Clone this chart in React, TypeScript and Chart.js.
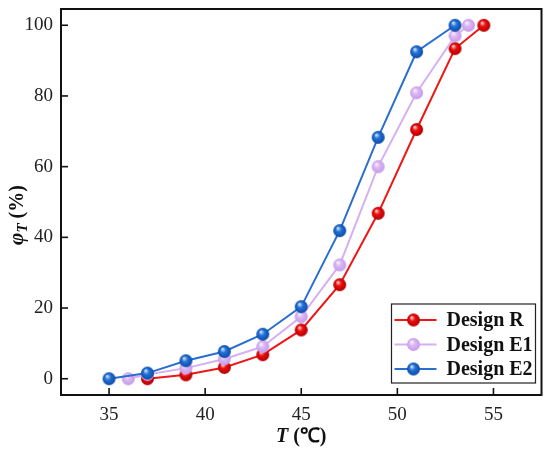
import React, { useEffect, useRef } from "react";
import { Chart, registerables } from "chart.js";

Chart.register(...registerables);

// ---- data ----
const SERIES_NAMES = ["Design R", "Design E1", "Design E2"];
const T_R = [37, 39, 41, 43, 45, 47, 49, 51, 53, 54.5];
const PHI_R = [0, 1.1, 3.2, 6.8, 13.8, 26.6, 46.8, 70.5, 93.4, 100];
const T_E1 = [36, 37, 39, 41, 43, 45, 47, 49, 51, 53, 53.7];
const PHI_E1 = [0, 1.2, 3, 5.6, 9.1, 17.6, 32.2, 60, 80.9, 97, 100];
const T_E2 = [35, 37, 39, 41, 43, 45, 47, 49, 51, 53];
const PHI_E2 = [0, 1.6, 5.1, 7.7, 12.6, 20.4, 41.9, 68.3, 92.5, 100];
const X_TICKS = [35, 40, 45, 50, 55];
const Y_TICKS = [0, 20, 40, 60, 80, 100];

const SERIF = "'Liberation Serif', 'Times New Roman', serif";

function makeSphere(base: string, light: string, dark: string, r = 6.5) {
  const c = document.createElement("canvas");
  const s = Math.ceil(r * 2) + 2;
  c.width = s;
  c.height = s;
  const g = c.getContext("2d")!;
  const cx = s / 2,
    cy = s / 2;
  const grad = g.createRadialGradient(cx - r * 0.3, cy - r * 0.4, r * 0.05, cx, cy, r);
  grad.addColorStop(0, light);
  grad.addColorStop(0.4, base);
  grad.addColorStop(1, dark);
  g.fillStyle = grad;
  g.beginPath();
  g.arc(cx, cy, r, 0, Math.PI * 2);
  g.fill();
  return c;
}

const framePlugin = {
  id: "frameAndLegend",
  afterDraw(chart: any) {
    const { ctx, chartArea: a, scales } = chart;
    ctx.save();
    // frame
    ctx.strokeStyle = "#111";
    ctx.lineWidth = 2;
    ctx.strokeRect(a.left, a.top, a.right - a.left, a.bottom - a.top);
    // inward ticks
    ctx.lineWidth = 1.6;
    const tl = 7;
    scales.x.ticks.forEach((t: any) => {
      const px = scales.x.getPixelForValue(t.value);
      ctx.beginPath();
      ctx.moveTo(px, a.bottom);
      ctx.lineTo(px, a.bottom - tl);
      ctx.stroke();
    });
    scales.y.ticks.forEach((t: any) => {
      const py = scales.y.getPixelForValue(t.value);
      ctx.beginPath();
      ctx.moveTo(a.left, py);
      ctx.lineTo(a.left + tl, py);
      ctx.stroke();
    });

    // legend
    const bw = 144,
      bh = 79;
    const bx = a.right - 6 - bw;
    const by = a.bottom - 12 - bh;
    ctx.fillStyle = "#fff";
    ctx.fillRect(bx, by, bw, bh);
    ctx.strokeStyle = "#222";
    ctx.lineWidth = 1.2;
    ctx.strokeRect(bx, by, bw, bh);
    chart.data.datasets.forEach((ds: any, i: number) => {
      const yy = by + 16 + i * 24.5;
      ctx.strokeStyle = ds.borderColor;
      ctx.lineWidth = 2;
      ctx.beginPath();
      ctx.moveTo(bx + 3, yy);
      ctx.lineTo(bx + 45, yy);
      ctx.stroke();
      const img = ds.pointStyle;
      ctx.drawImage(img, bx + 22 - img.width / 2, yy - img.height / 2);
      ctx.fillStyle = "#111";
      ctx.font = `bold 20px ${SERIF}`;
      ctx.textBaseline = "middle";
      ctx.textAlign = "left";
      ctx.fillText(ds.label, bx + 55, yy + 1);
    });

    // x title: T (°C)
    ctx.fillStyle = "#111";
    ctx.textBaseline = "middle";
    const xt1 = "T";
    const xt2 = " (\u2103)";
    ctx.font = `italic bold 20px ${SERIF}`;
    const w1 = ctx.measureText(xt1).width;
    ctx.font = `bold 20px ${SERIF}`;
    const w2 = ctx.measureText(xt2).width;
    let sx = (a.left + a.right) / 2 - (w1 + w2) / 2;
    const ty = 437;
    ctx.textAlign = "left";
    ctx.font = `italic bold 20px ${SERIF}`;
    ctx.fillText(xt1, sx, ty);
    ctx.font = `bold 20px ${SERIF}`;
    ctx.fillText(xt2, sx + w1, ty);

    // y title: φ_T (%)
    ctx.save();
    ctx.translate(18, 215);
    ctx.rotate(-Math.PI / 2);
    ctx.font = `italic bold 21px ${SERIF}`;
    const p1 = "\u03C6";
    const wp1 = ctx.measureText(p1).width;
    ctx.font = `italic bold 15px ${SERIF}`;
    const p2 = "T";
    const wp2 = ctx.measureText(p2).width;
    ctx.font = `bold 20px ${SERIF}`;
    const p3 = " (%)";
    const wp3 = ctx.measureText(p3).width;
    let px0 = -(wp1 + wp2 + wp3) / 2;
    ctx.font = `italic bold 21px ${SERIF}`;
    ctx.fillText(p1, px0, 0);
    ctx.font = `italic bold 15px ${SERIF}`;
    ctx.fillText(p2, px0 + wp1, 5);
    ctx.font = `bold 20px ${SERIF}`;
    ctx.fillText(p3, px0 + wp1 + wp2, 0);
    ctx.restore();

    ctx.restore();
  },
};

export default function App() {
  const ref = useRef<HTMLCanvasElement>(null);
  useEffect(() => {
    if (!ref.current) return;
    const sR = makeSphere("#ee0f0f", "#ffd8d8", "#b00000");
    const sE1 = makeSphere("#dbb8f5", "#fbf3ff", "#c59ae8");
    const sE2 = makeSphere("#2473d8", "#d6e8ff", "#0b4aa5");
    const mk = (xs: number[], ys: number[]) => xs.map((x, i) => ({ x, y: ys[i] }));
    const chart = new Chart(ref.current, {
      type: "line",
      data: {
        datasets: [
          {
            label: SERIES_NAMES[0],
            data: mk(T_R, PHI_R),
            borderColor: "#f01616",
            borderWidth: 2,
            pointStyle: sR as any,
            pointRadius: 6.5,
            order: 3,
          },
          {
            label: SERIES_NAMES[1],
            data: mk(T_E1, PHI_E1),
            borderColor: "#d6b0f2",
            borderWidth: 2,
            pointStyle: sE1 as any,
            pointRadius: 6.5,
            order: 2,
          },
          {
            label: SERIES_NAMES[2],
            data: mk(T_E2, PHI_E2),
            borderColor: "#2a6fd0",
            borderWidth: 2,
            pointStyle: sE2 as any,
            pointRadius: 6.5,
            order: 1,
          },
        ],
      },
      options: {
        animation: false,
        responsive: false,
        layout: { padding: { left: 0, right: 7, top: 9, bottom: 0 } },
        plugins: { legend: { display: false }, tooltip: { enabled: false } },
        scales: {
          x: {
            type: "linear",
            min: 32.5,
            max: 57.5,
            afterFit: (s: any) => {
              s.height = 59;
              s.paddingLeft = 0;
              s.paddingRight = 0;
            },
            afterBuildTicks: (s: any) => {
              s.ticks = X_TICKS.map((v) => ({ value: v }));
            },
            grid: { display: false, drawTicks: false },
            border: { display: false },
            ticks: {
              padding: 9,
              color: "#222",
              font: { family: SERIF, size: 19 },
              maxRotation: 0,
            },
          },
          y: {
            type: "linear",
            min: -4.6,
            max: 104.6,
            afterFit: (s: any) => {
              s.width = 61;
              s.paddingTop = 0;
              s.paddingBottom = 0;
            },
            afterBuildTicks: (s: any) => {
              s.ticks = Y_TICKS.map((v) => ({ value: v }));
            },
            grid: { display: false, drawTicks: false },
            border: { display: false },
            ticks: {
              padding: 8,
              color: "#222",
              font: { family: SERIF, size: 19 },
            },
          },
        },
      },
      plugins: [framePlugin],
    });
    return () => chart.destroy();
  }, []);
  return (
    <div style={{ position: "fixed", left: 0, top: 0, width: 550, height: 454, background: "#fff" }}>
      <canvas ref={ref} width={550} height={454} style={{ display: "block" }} />
    </div>
  );
}
